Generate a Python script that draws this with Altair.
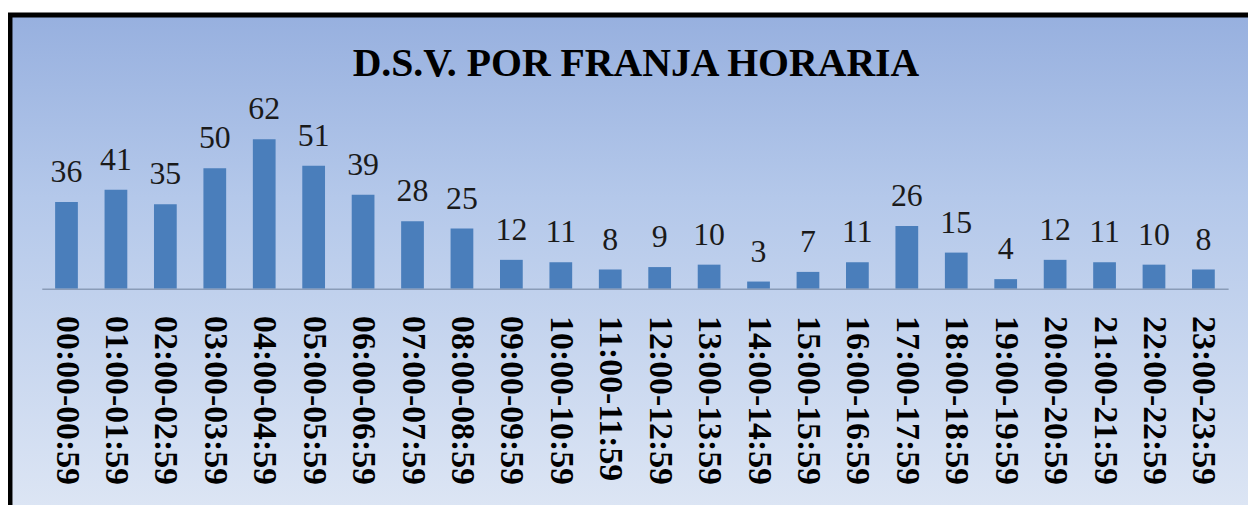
import altair as alt
import pandas as pd

categories = ["00:00-00:59", "01:00-01:59", "02:00-02:59", "03:00-03:59", "04:00-04:59",
              "05:00-05:59", "06:00-06:59", "07:00-07:59", "08:00-08:59", "09:00-09:59",
              "10:00-10:59", "11:00-11:59", "12:00-12:59", "13:00-13:59", "14:00-14:59",
              "15:00-15:59", "16:00-16:59", "17:00-17:59", "18:00-18:59", "19:00-19:59",
              "20:00-20:59", "21:00-21:59", "22:00-22:59", "23:00-23:59"]
values = [36, 41, 35, 50, 62, 51, 39, 28, 25, 12, 11, 8, 9, 10, 3, 7, 11, 26, 15, 4, 12, 11, 10, 8]
title_text = "D.S.V. POR FRANJA HORARIA"

df = pd.DataFrame({"franja": categories, "dsv": values})

W, H = 1194, 170

x_enc = alt.X("franja:N", sort=categories,
              scale=alt.Scale(paddingInner=0.54, paddingOuter=0.27),
              axis=alt.Axis(title=None, labelAngle=90, labelAlign="left", labelBaseline="middle",
                            labelFont="Liberation Serif", labelFontWeight="bold", labelFontSize=34,
                            labelColor="#000000", labelPadding=27, ticks=False,
                            domainColor="#8a9cb8", domainWidth=1.5, zindex=2))
y_enc = alt.Y("dsv:Q", scale=alt.Scale(domain=[0, 69.8]), axis=None)

bg = alt.Chart(pd.DataFrame({"k": [0]})).mark_rect(
    stroke="black", strokeWidth=5,
    color=alt.LinearGradient(gradient="linear", x1=0, x2=0, y1=0, y2=1,
                             stops=[alt.GradientStop(color="#97b0df", offset=0),
                                    alt.GradientStop(color="#b4c8ea", offset=0.35),
                                    alt.GradientStop(color="#e0e8f5", offset=1)])
).encode(x=alt.value(-32), x2=alt.value(1240), y=alt.value(-105.5), y2=alt.value(420))

title = alt.Chart(pd.DataFrame({"t": [title_text]})).mark_text(
    font="Liberation Serif", fontWeight="bold", fontSize=40, color="#000000",
    align="center", baseline="alphabetic"
).encode(x=alt.value(598), y=alt.value(-44), text="t:N")

bars = alt.Chart(df).mark_bar(color="#4a7ebb").encode(x=x_enc, y=y_enc)

labels = alt.Chart(df).mark_text(
    font="Liberation Serif", fontSize=32, color="#1a1a1a",
    align="center", baseline="alphabetic", dy=-20
).encode(x=alt.X("franja:N", sort=categories), y="dsv:Q", text="dsv:Q")

chart = alt.layer(bg, title, bars, labels).properties(
    width=W, height=H,
    autosize=alt.AutoSizeParams(type="none"),
    padding={"left": 34, "top": 111, "right": 20, "bottom": 216},
).configure_view(stroke=None).configure(background="white")

chart.save("out.html", embed_options={"renderer": "svg", "actions": False})
